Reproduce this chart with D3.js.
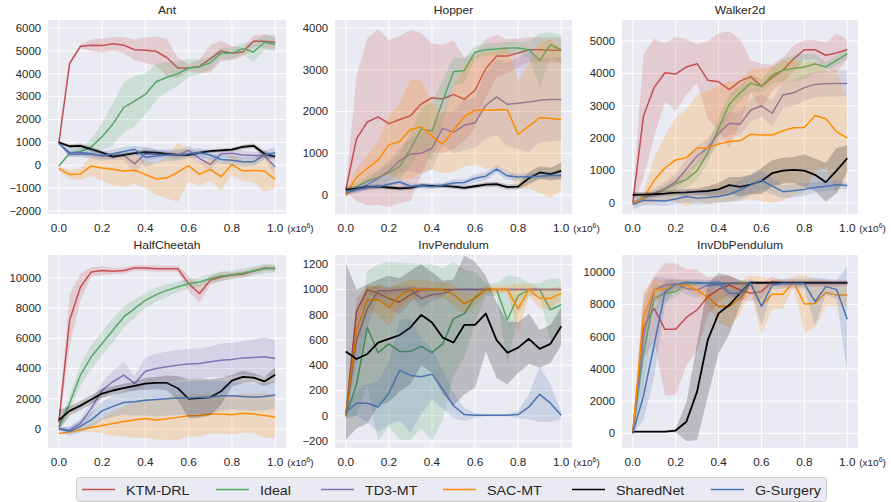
<!DOCTYPE html>
<html><head><meta charset="utf-8">
<script src="https://cdn.jsdelivr.net/npm/d3@7"></script>
<style>body{margin:0;background:#fff} text{font-family:"Liberation Sans",Arial,sans-serif;fill:#262626}</style>
</head><body><svg id="c" width="891" height="502"></svg>
<script>
const steps = [0,0.05,0.1,0.15,0.2,0.25,0.3,0.35,0.4,0.45,0.5,0.55,0.6,0.65,0.7,0.75,0.8,0.85,0.9,0.95,1.0];
const xTicks = [0,0.2,0.4,0.6,0.8,1.0];
const seriesNames = ["KTM-DRL","Ideal","TD3-MT","SAC-MT","SharedNet","G-Surgery"];
const seriesColors = ["#C44E52","#55A868","#8172B2","#FF8C00","#000000","#4C72B0"];

// ---- Ant ----
const antTicks = [-2000,-1000,0,1000,2000,3000,4000,5000,6000];
const antKTM = [970,4450,5200,5250,5230,5310,5250,5050,5030,4980,4700,4250,4250,4320,4650,5000,4900,4950,5420,5420,5380];
const antKTMsd = [30,100,80,250,300,300,350,450,550,650,800,450,150,300,600,450,300,200,250,300,300];
const antIdeal = [-30,520,600,800,1250,1800,2530,2800,3100,3650,3850,4000,4250,4300,4480,4900,4900,5100,4950,5380,5280];
const antIdealsd = [30,80,150,350,600,900,1100,1100,900,800,650,550,400,300,300,250,250,250,450,350,300];
const antTD3 = [970,480,480,470,430,380,430,60,500,470,480,450,650,300,30,500,520,450,430,430,-80];
const antTD3sd = [30,100,100,100,150,150,200,400,300,200,150,200,200,250,300,150,200,200,150,150,350];
const antSAC = [-150,-400,-380,-30,-120,-170,-250,-220,-400,-600,-550,-300,-20,-400,-180,-500,30,-250,-230,-250,-620];
const antSACsd = [100,200,250,450,550,700,700,600,600,700,900,1300,700,500,500,600,450,450,500,900,400];
const antShared = [1000,830,850,700,550,380,450,530,570,550,500,450,450,550,620,650,680,800,850,500,380];
const antSharedsd = [50,80,100,100,100,100,80,100,100,80,80,80,80,80,80,80,80,100,100,150,100];
const antGS = [950,550,560,500,400,500,600,700,350,400,450,450,500,550,450,250,220,150,150,450,550];
const antGSsd = [50,200,200,200,200,200,200,150,450,300,250,250,200,200,200,200,200,200,200,200,250];

// ---- Hopper ----
const hopTicks = [0,1000,2000,3000,4000];
const hopKTM = [120,1350,1750,1870,1710,1810,1900,2180,2330,2300,2410,2290,2510,3030,3330,3330,3400,3480,3480,3470,3470];
const hopKTMsd = [50,1500,2000,2100,2000,2000,2050,1700,1300,1300,1300,1000,900,700,500,400,350,300,300,300,300];
const hopIdeal = [0,200,330,420,530,680,1100,1580,1530,2250,2950,2980,3420,3480,3500,3520,3520,3480,3220,3600,3480];
const hopIdealsd = [50,100,120,150,200,300,400,500,700,500,350,300,150,150,150,150,150,200,650,300,350];
const hopTD3 = [50,130,250,400,570,820,980,1000,1120,1600,1500,1670,1730,2150,2350,2170,2200,2230,2270,2290,2290];
const hopTD3sd = [50,80,120,200,250,300,400,500,500,400,500,600,600,800,900,1000,1100,1200,1000,1000,1000];
const hopSAC = [0,420,640,840,1200,1280,1570,1630,1410,1220,1550,1880,2030,2030,2040,2040,1450,1650,1850,1830,1810];
const hopSACsd = [80,200,300,450,700,900,1200,1100,800,700,1000,1200,1300,1400,1400,1500,1300,1500,1800,1900,1700];
const hopShared = [130,150,190,200,180,160,170,230,220,220,200,170,210,250,260,190,200,400,540,500,580];
const hopSharedsd = [80,60,50,50,50,50,50,50,50,50,50,50,50,60,60,60,60,150,150,150,200];
const hopGS = [80,130,180,200,260,310,210,220,200,240,290,300,400,450,620,460,430,440,450,470,470];
const hopGSsd = [80,60,60,60,60,60,60,60,60,60,80,80,100,100,100,100,80,80,80,80,80];

// ---- Walker2d ----
const walTicks = [0,1000,2000,3000,4000,5000];
const walKTM = [0,2680,3570,4020,3980,4200,4300,3790,3740,3500,3760,3900,3600,3870,4100,4450,4730,4730,4560,4630,4740];
const walKTMsd = [100,1900,1500,900,1150,850,600,1200,1500,1800,1300,500,700,400,400,400,300,300,400,600,300];
const walIdeal = [0,150,300,400,600,720,1000,1550,2300,3050,3400,3700,3600,3950,4100,4150,4200,4300,4200,4400,4600];
const walIdealsd = [50,80,100,150,200,250,300,300,300,300,250,250,200,250,350,400,400,300,150,150,150];
const walTD3 = [0,150,300,450,650,1050,1450,1700,2150,2460,2430,2870,3000,2770,3330,3400,3560,3660,3680,3690,3690];
const walTD3sd = [50,100,150,200,250,300,300,300,300,350,350,350,350,400,400,400,400,400,400,400,400];
const walSAC = [0,150,700,1080,1330,1400,1700,1700,1820,1900,1920,2120,2100,2100,2230,2320,2330,2700,2600,2200,2000];
const walSACsd = [50,200,700,1000,1300,1500,1650,1750,1800,1850,1850,2000,2050,2100,2150,2100,2000,1700,1500,1900,1200];
const walShared = [250,260,270,290,320,330,350,370,420,550,500,570,680,920,1000,1020,1000,870,640,1000,1380];
const walSharedsd = [100,80,80,80,100,100,100,150,200,250,300,300,400,400,400,400,500,500,600,700,400];
const walGS = [-50,80,80,60,120,200,150,170,200,270,400,550,700,520,350,380,420,480,520,560,540];
const walGSsd = [150,150,150,150,150,200,200,200,200,250,300,300,300,250,200,200,200,150,150,150,100];

// ---- HalfCheetah ----
const hcTicks = [0,2000,4000,6000,8000,10000];
const hcKTM = [440,7200,9400,10400,10500,10440,10500,10660,10660,10620,10620,10620,9630,8970,9850,10070,10180,10240,10460,10660,10620];
const hcKTMsd = [200,1700,900,300,300,200,200,200,200,200,200,200,500,600,300,300,200,200,200,200,200];
const hcIdeal = [150,1700,3570,4780,5660,6540,7420,7970,8520,8900,9180,9400,9630,9740,9960,10130,10220,10330,10460,10620,10660];
const hcIdealsd = [200,500,700,800,800,800,700,600,500,450,400,350,300,300,300,300,300,300,300,300,300];
const hcTD3 = [40,-60,370,1370,2580,3130,3570,3020,3830,4000,4120,4230,4300,4340,4450,4560,4600,4710,4740,4780,4670];
const hcTD3sd = [100,200,300,500,500,700,900,500,900,1000,1000,1000,1000,1000,1000,1100,1100,1100,1200,1300,1200];
const hcSAC = [-290,-200,-50,100,230,370,500,600,700,600,680,770,880,900,1000,1000,950,1050,1000,900,800];
const hcSACsd = [50,100,150,300,500,800,1000,1200,1300,1300,1400,1500,1400,1400,1300,1300,1300,1300,1300,1500,1400];
const hcShared = [590,1200,1550,1950,2350,2550,2700,2850,3000,3050,3050,2700,2000,2050,2100,2500,3200,3450,3400,3150,3600];
const hcSharedsd = [700,300,300,300,300,300,300,300,400,400,500,800,1300,1300,1200,900,400,400,300,300,500];
const hcGS = [0,-150,180,600,1200,1500,1750,1800,1900,1950,2000,2050,2050,2100,2100,2200,2200,2150,2100,2150,2250];
const hcGSsd = [100,300,400,500,600,700,800,900,1000,1100,1100,1100,1100,1100,1100,1000,900,900,900,900,900];

// ---- InvPendulum ----
const ipTicks = [-200,0,200,400,600,800,1000,1200];
const ipKTM = [0,830,1000,970,930,900,960,1000,1000,1000,1000,1000,1000,1000,1000,1000,1000,1000,1000,1000,1000];
const ipKTMsd = [20,100,30,50,80,100,60,20,10,10,0,0,0,0,0,0,0,0,0,0,0];
const ipIdeal = [0,250,700,500,570,510,510,550,500,570,770,810,940,1000,1000,760,950,1000,1000,840,880];
const ipIdealsd = [20,250,450,700,650,700,700,650,700,600,450,350,200,50,50,350,150,50,50,250,200];
const ipTD3 = [0,600,850,990,990,1000,1000,930,960,970,1000,1000,1000,1000,1000,1000,1000,1000,1000,1000,1000];
const ipTD3sd = [20,200,150,50,30,30,30,80,50,30,0,0,0,0,0,0,0,0,0,0,0];
const ipSAC = [0,680,920,920,860,950,1000,1000,1000,1000,960,890,930,1000,1000,1000,850,1000,930,930,970];
const ipSACsd = [20,150,100,120,150,100,80,80,60,60,80,80,60,30,30,30,200,50,80,80,60];
const ipShared = [510,450,490,580,610,640,700,800,740,620,580,720,720,810,600,500,540,610,530,570,710];
const ipSharedsd = [700,550,550,500,500,450,450,400,400,450,500,550,500,300,300,250,200,200,150,150,150];
const ipGS = [30,100,100,70,180,360,320,310,330,210,80,10,5,5,5,5,10,70,170,100,5];
const ipGSsd = [50,100,150,200,250,400,450,300,200,150,100,50,20,10,10,10,30,100,220,150,30];

// ---- InvDbPendulum ----
const idpTicks = [0,2000,4000,6000,8000,10000];
const idpKTM = [40,6580,7760,6460,6460,7200,7660,8490,8940,9210,8900,8700,8800,9420,9300,9300,9300,9300,9300,9300,9330];
const idpKTMsd = [50,2000,2000,4100,4100,3000,2500,1200,800,600,600,500,500,300,200,200,200,200,200,200,200];
const idpIdeal = [0,5000,8400,8700,8800,9300,9300,9330,9330,9330,9330,9330,9330,9330,9330,9330,9330,9330,9330,9330,9330];
const idpIdealsd = [50,2000,800,500,400,200,100,50,50,50,50,50,50,50,50,50,50,50,50,50,50];
const idpTD3 = [0,6000,8900,9200,9300,9000,8900,9200,9250,9300,9300,9300,9300,9300,9300,9300,9300,9300,9300,9300,9300];
const idpTD3sd = [50,2000,800,500,300,400,500,300,200,100,100,100,100,100,100,100,100,100,100,100,100];
const idpSAC = [0,7290,8900,8940,9250,9200,8900,8450,7870,7870,8390,9320,7910,8630,8630,9420,8030,8070,8740,8590,8590];
const idpSACsd = [50,1500,700,500,300,300,300,500,1000,1300,1000,500,1800,900,900,300,1800,1500,800,700,700];
const idpShared = [100,100,100,100,170,720,2590,5800,7450,7970,8700,9360,9360,9360,9360,9360,9360,9360,9360,9360,9360];
const idpSharedsd = [50,50,50,50,100,1200,3000,3500,2500,1800,800,100,50,50,50,50,50,50,50,50,50];
const idpGS = [0,2320,5500,8760,9250,9360,9360,9300,9360,8700,8700,9300,7900,9210,9300,9300,9300,8180,9110,8940,7080];
const idpGSsd = [50,1500,2000,800,300,200,200,200,200,300,300,300,1200,300,300,300,300,1500,500,600,3300];

const panels = [
  {title:"Ant", col:0,row:0, yDom:[-2131,6350], yTicks:antTicks,
   m:[antKTM,antIdeal,antTD3,antSAC,antShared,antGS], s:[antKTMsd,antIdealsd,antTD3sd,antSACsd,antSharedsd,antGSsd]},
  {title:"Hopper", col:1,row:0, yDom:[-455,4192], yTicks:hopTicks,
   m:[hopKTM,hopIdeal,hopTD3,hopSAC,hopShared,hopGS], s:[hopKTMsd,hopIdealsd,hopTD3sd,hopSACsd,hopSharedsd,hopGSsd]},
  {title:"Walker2d", col:2,row:0, yDom:[-340,5648], yTicks:walTicks,
   m:[walKTM,walIdeal,walTD3,walSAC,walShared,walGS], s:[walKTMsd,walIdealsd,walTD3sd,walSACsd,walSharedsd,walGSsd]},
  {title:"HalfCheetah", col:0,row:1, yDom:[-1258,11523], yTicks:hcTicks,
   m:[hcKTM,hcIdeal,hcTD3,hcSAC,hcShared,hcGS], s:[hcKTMsd,hcIdealsd,hcTD3sd,hcSACsd,hcSharedsd,hcGSsd]},
  {title:"InvPendulum", col:1,row:1, yDom:[-255,1274], yTicks:ipTicks,
   m:[ipKTM,ipIdeal,ipTD3,ipSAC,ipShared,ipGS], s:[ipKTMsd,ipIdealsd,ipTD3sd,ipSACsd,ipSharedsd,ipGSsd]},
  {title:"InvDbPendulum", col:2,row:1, yDom:[-913,11075], yTicks:idpTicks,
   m:[idpKTM,idpIdeal,idpTD3,idpSAC,idpShared,idpGS], s:[idpKTMsd,idpIdealsd,idpTD3sd,idpSACsd,idpSharedsd,idpGSsd]}
];

const colLeft = [48,335,622], colW = [238,237,236];
const rowTop = [20,255], rowH = [194,193];
const svg = d3.select("#c");

function txt(g, x, y, str, anchor, size, sx){
  return g.append("text").attr("transform",`translate(${x},${y}) scale(${sx},1)`)
    .attr("text-anchor",anchor).attr("font-size",size).text(str);
}

panels.forEach((p,pi)=>{
  const L = colLeft[p.col], T = rowTop[p.row], W = colW[p.col], H = rowH[p.row];
  const x = d3.scaleLinear().domain([-0.05,1.05]).range([L, L+W]);
  const y = d3.scaleLinear().domain(p.yDom).range([T+H, T]);
  const g = svg.append("g");
  g.append("rect").attr("x",L).attr("y",T).attr("width",W).attr("height",H).attr("fill","#EAEAF2");
  g.selectAll(".gx").data(xTicks).enter().append("line")
    .attr("x1",d=>x(d)).attr("x2",d=>x(d)).attr("y1",T).attr("y2",T+H).attr("stroke","#fff").attr("stroke-width",1);
  g.selectAll(".gy").data(p.yTicks).enter().append("line")
    .attr("x1",L).attr("x2",L+W).attr("y1",d=>y(d)).attr("y2",d=>y(d)).attr("stroke","#fff").attr("stroke-width",1);
  // tick labels
  p.yTicks.forEach(t=>{
    txt(g, L-7, y(t)+3.8, t<0 ? "\u2212"+Math.abs(t) : String(t), "end", 10.5, 1.08);
  });
  xTicks.forEach(t=>{
    txt(g, x(t), T+H+18, t.toFixed(1), "middle", 10.5, 1.12);
  });
  const lab = g.append("text").attr("transform",`translate(${x(1.0)+12},${T+H+18}) scale(1.05,1)`).attr("font-size",9.5);
  lab.append("tspan").text("(x10");
  lab.append("tspan").attr("font-size",6.5).attr("dy",-4).text("6");
  lab.append("tspan").attr("dy",4).text(")");
  txt(g, L+W/2, T-6, p.title, "middle", 11.5, 1.05);

  const cid = "clip"+pi;
  g.append("clipPath").attr("id",cid).append("rect").attr("x",L).attr("y",T).attr("width",W).attr("height",H);
  const pg = g.append("g").attr("clip-path",`url(#${cid})`);
  p.m.forEach((arr,si)=>{
    const sd = p.s[si];
    const area = d3.area().x((d,i)=>x(steps[i])).y0((d,i)=>y(d - sd[i])).y1((d,i)=>y(d + sd[i]));
    pg.append("path").datum(arr).attr("d",area).attr("fill",seriesColors[si]).attr("fill-opacity",0.2);
    const line = d3.line().x((d,i)=>x(steps[i])).y(d=>y(d));
    pg.append("path").datum(arr).attr("d",line).attr("fill","none").attr("stroke",seriesColors[si])
      .attr("stroke-width", si===4 ? 1.8 : 1.5).attr("stroke-linejoin","round");
  });
});

// legend
const leg = svg.append("g");
leg.append("rect").attr("x",76.5).attr("y",477.5).attr("width",750).attr("height",24).attr("rx",3)
  .attr("fill","#EAEAF2").attr("stroke","#cccccc").attr("stroke-width",1);
const legX = [82,216,321,443,572,711];
seriesNames.forEach((n,i)=>{
  leg.append("line").attr("x1",legX[i]).attr("x2",legX[i]+33).attr("y1",489.5).attr("y2",489.5)
    .attr("stroke",seriesColors[i]).attr("stroke-width",1.5);
  txt(leg, legX[i]+44, 494.5, n, "start", 13, 1.1);
});
</script></body></html>
